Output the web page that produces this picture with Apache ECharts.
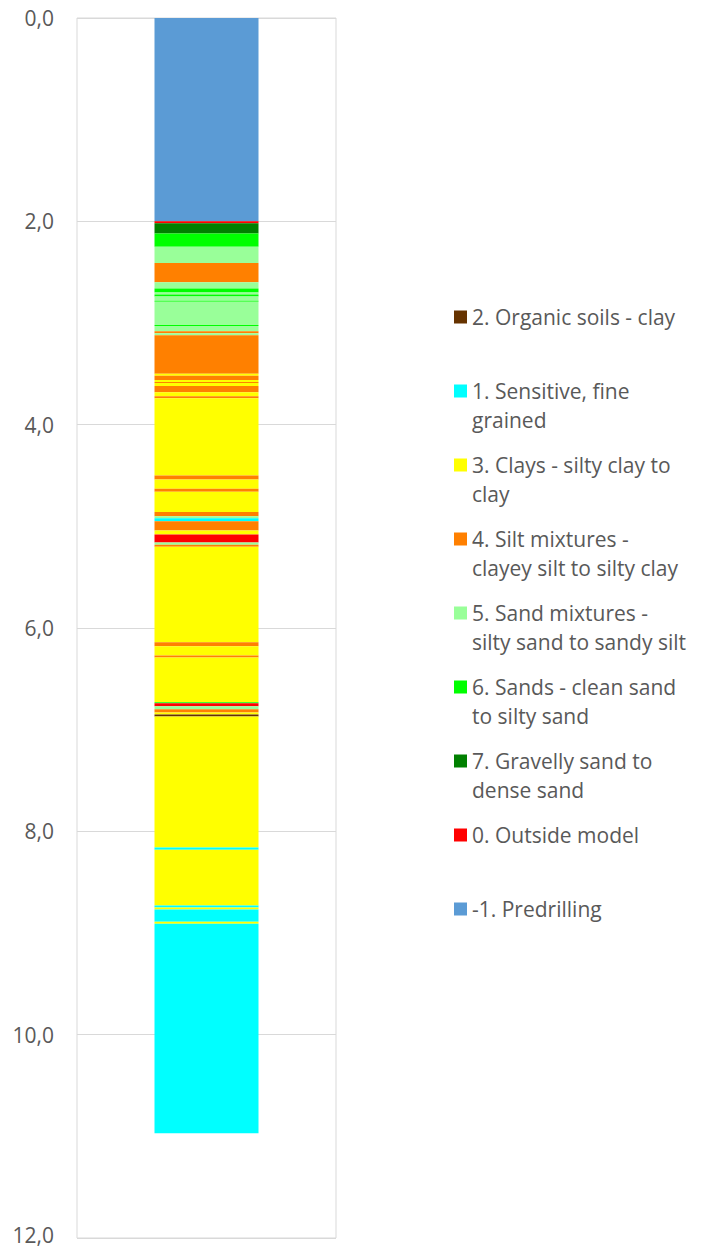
<!DOCTYPE html>
<html>
<head>
<meta charset="utf-8">
<script src="https://cdn.jsdelivr.net/npm/echarts@6/dist/echarts.min.js"></script>
<style>
  html, body { margin: 0; padding: 0; background: #ffffff; }
  #chart { width: 706px; height: 1250px; }
</style>
</head>
<body>
<div id="chart"></div>
<script>
// Soil behaviour types (legend order)
const soilCodes = [2, 1, 3, 4, 5, 6, 7, 0, -1];
const soilNames = [
  '2. Organic soils - clay',
  '1. Sensitive, fine\ngrained',
  '3. Clays - silty clay to\nclay',
  '4. Silt mixtures -\nclayey silt to silty clay',
  '5. Sand mixtures -\nsilty sand to sandy silt',
  '6. Sands - clean sand\nto silty sand',
  '7. Gravelly sand to\ndense sand',
  '0. Outside model',
  '-1. Predrilling'
];
const soilColors = ['#663300', '#00FFFF', '#FFFF00', '#FF8000', '#99FF99', '#00FF00', '#008000', '#FF0000', '#5B9BD5'];

// Layer bottoms (depth, m) and soil type code of each layer, from top down
const layerBottom = [
  2.00, 2.02, 2.12, 2.25, 2.41, 2.60, 2.66, 2.70, 2.72, 2.74,
  2.78, 2.79, 3.02, 3.03, 3.08, 3.10, 3.12, 3.50, 3.52, 3.56,
  3.58, 3.59, 3.62, 3.68, 3.72, 3.74, 4.50, 4.54, 4.63, 4.66,
  4.86, 4.90, 4.92, 4.95, 5.04, 5.08, 5.16, 5.18, 5.20, 6.14,
  6.18, 6.27, 6.29, 6.73, 6.74, 6.77, 6.80, 6.83, 6.85, 6.87,
  8.16, 8.18, 8.73, 8.75, 8.77, 8.89, 8.91, 10.97
];
const layerType = [
  -1, 0, 7, 6, 5, 4, 5, 6, 5, 6,
  5, 6, 5, 6, 5, 4, 5, 4, 3, 4,
  3, 4, 3, 4, 3, 4, 3, 4, 3, 4,
  3, 4, 5, 1, 4, 3, 0, 5, 4, 3,
  4, 3, 4, 3, 6, 0, 5, 4, 3, 2,
  3, 1, 3, 1, 3, 1, 3, 1
];

// Depth axis ticks
const depthMin = 0, depthMax = 12, depthStep = 2;
const categories = [''];

const FONT = 'Open Sans';
const TEXT_COLOR = '#595959';
const GRID_COLOR = '#d9d9d9';

const series = layerBottom.map((bottom, i) => {
  const top = i === 0 ? 0 : layerBottom[i - 1];
  const idx = soilCodes.indexOf(layerType[i]);
  return {
    type: 'bar',
    stack: 'log',
    name: soilNames[idx],
    barWidth: 104,
    data: [+(bottom - top).toFixed(4)],
    itemStyle: { color: soilColors[idx] },
    emphasis: { disabled: true },
    silent: true
  };
});

const LINE_H = 29;
const legends = soilNames.map((name, i) => ({
  data: [name],
  orient: 'vertical',
  left: 454,
  top: 317 + i * 74 - LINE_H * 1.5,
  padding: 0,
  itemWidth: 13,
  itemHeight: 13,
  icon: 'rect',
  selectedMode: false,
  formatter: n => '\n' + n + (n.indexOf('\n') >= 0 ? '' : '\n '),
  textStyle: {
    fontFamily: FONT,
    fontSize: 21,
    color: TEXT_COLOR,
    lineHeight: LINE_H
  }
}));

const chart = echarts.init(document.getElementById('chart'), null, { renderer: 'svg' });
chart.setOption({
  animation: false,
  backgroundColor: '#ffffff',
  grid: {
    left: 77, right: 370, top: 18, bottom: 12,
    outerBoundsMode: 'none',
    containLabel: false,
    show: true, borderColor: GRID_COLOR, borderWidth: 1
  },
  legend: legends,
  xAxis: {
    type: 'category',
    data: categories,
    axisLine: { show: false },
    axisTick: { show: false },
    axisLabel: { show: false },
    splitLine: { show: false }
  },
  yAxis: {
    type: 'value',
    inverse: true,
    min: depthMin,
    max: depthMax,
    interval: depthStep,
    axisLine: { show: false },
    axisTick: { show: false },
    axisLabel: {
      formatter: v => {
        const s = v.toFixed(1).replace('.', ',');
        return v === depthMax ? '{edge|' + s + '}' : s;
      },
      color: TEXT_COLOR,
      fontFamily: FONT,
      fontSize: 21,
      lineHeight: 22,
      margin: 23,
      rich: {
        edge: {
          fontFamily: FONT,
          fontSize: 21,
          color: TEXT_COLOR,
          lineHeight: 22,
          padding: [0, 0, 6, 0]
        }
      }
    },
    splitLine: { lineStyle: { color: GRID_COLOR, width: 1 } }
  },
  series: series
});
</script>
</body>
</html>
